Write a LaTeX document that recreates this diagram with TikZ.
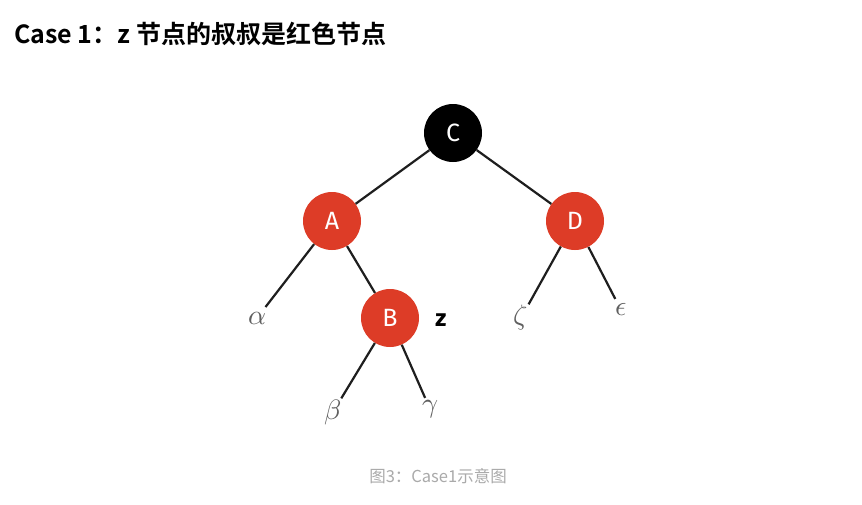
\documentclass[tikz,border=0pt]{standalone}
\usepackage{fontspec}
\usepackage{unicode-math}
\newfontfamily\cjk{Noto Sans CJK SC}
\newfontfamily\cjkbold{Noto Sans CJK SC Bold}
\newfontfamily\keyfont{Fira Sans}
\definecolor{nodered}{RGB}{221,60,39}
\definecolor{edgecol}{RGB}{30,30,30}
\definecolor{leafcol}{RGB}{95,95,95}
\definecolor{capcol}{RGB}{170,170,170}
\begin{document}
\begin{tikzpicture}[x=1pt,y=-1pt,
  treenode/.style={circle,minimum size=58pt,inner sep=0pt,text=white,font=\keyfont\fontsize{25}{25}\selectfont},
  rednode/.style={treenode,fill=nodered},
  blacknode/.style={treenode,fill=black},
  leaf/.style={inner sep=0pt,minimum size=20pt,text=leafcol,font=\fontsize{28}{28}\selectfont},
  edge/.style={draw=edgecol,line width=2.2pt},
  leafedge/.style={edge,shorten >=1pt}]
\useasboundingbox[fill=white] (0,0) rectangle (862,504);

% title
\node[anchor=base west,inner sep=0pt,font=\cjkbold\fontsize{25}{25}\selectfont] (title) at (14,43) {Case 1：z 节点的叔叔是红色节点};

% tree nodes
\node[blacknode] (C) at (453,133) {C};
\node[rednode] (A) at (332,221) {A};
\node[rednode] (D) at (575,221) {D};
\node[rednode] (B) at (390,318) {B};

% subtrees
\node[leaf] (alpha) at (257,318) {$\alpha$};
\node[leaf] (beta) at (333,412) {$\beta$};
\node[leaf] (gamma) at (430,409) {$\gamma$};
\node[leaf] (zeta) at (521,318) {$\zeta$};
\node[leaf] (eps) at (621,310) {$\epsilon$};

% label of the inserted node
\node[inner sep=0pt,font=\keyfont\bfseries\fontsize{24}{24}\selectfont] (zlabel) at (441,320) {z};

% edges
\draw[edge] (C) -- (A);
\draw[edge] (C) -- (D);
\draw[edge] (A) -- (B);
\draw[leafedge] (A) -- (alpha);
\draw[leafedge] (D) -- (zeta);
\draw[leafedge] (D) -- (eps);
\draw[leafedge] (B) -- (beta);
\draw[leafedge] (B) -- (gamma);

% caption
\node[anchor=base,inner sep=0pt,text=capcol,font=\cjk\fontsize{16.5}{16.5}\selectfont] (caption) at (438,482) {图3：Case1示意图};
\end{tikzpicture}
\end{document}
